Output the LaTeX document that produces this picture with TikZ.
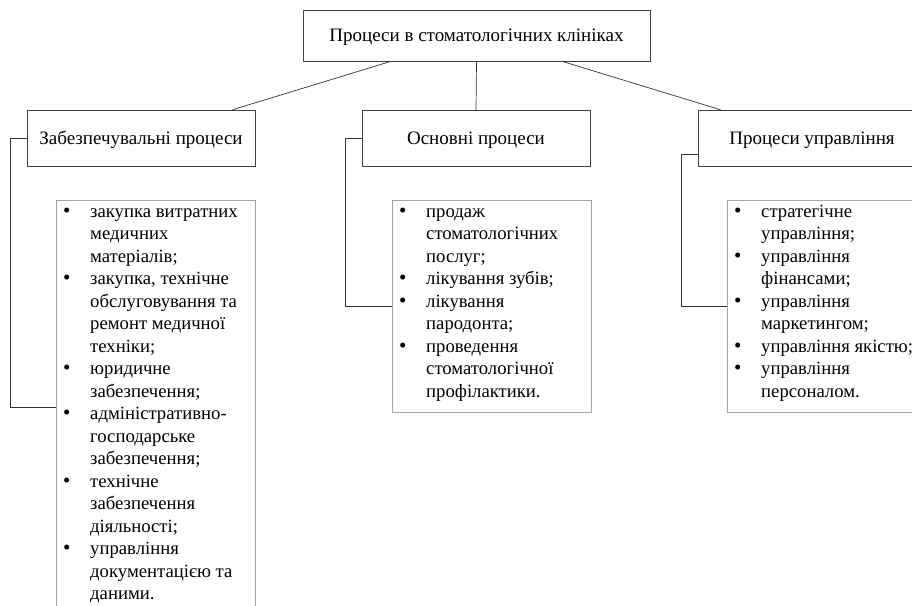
\documentclass[tikz,border=0pt]{standalone}
\usepackage{fontspec}
\setmainfont{Liberation Serif}
\usetikzlibrary{calc, shadows}

\tikzset{
	head/.style = {draw = black!75, fill = white, minimum width = 228pt, minimum height = 56pt, inner sep = 0pt, text height = 12pt, text depth = 0pt, drop shadow = {shadow xshift = 1.2pt, shadow yshift = -1.2pt, opacity = 0.3}},
	plist/.style = {draw = black!35, fill = white, anchor = north west, inner sep = 0pt, font = \fontsize{18.7}{22.5}\selectfont, drop shadow = {shadow xshift = 0.8pt, shadow yshift = -0.8pt, opacity = 0.15}},
	link/.style = {draw = black!80, line width = 0.7pt}
}

% список з маркерами: висота рамки, рядки
\newcommand{\punkty}[2]{\parbox[c][#1][t]{199pt}{\vspace{1.5pt}\begin{tabular}{@{\hspace{7pt}}p{27pt}@{}l@{}}#2\end{tabular}}}
\newcommand{\bul}{{\fontsize{21}{0}\selectfont\textbullet}}

\begin{document}
\begin{tikzpicture}[x = 1pt, y = -1pt, font = \fontsize{19}{22.6}\selectfont]

	\useasboundingbox (0, 0) rectangle (912, 605);
	\clip (0, 0) rectangle (912, 605);

	% заголовки
	\node[head, minimum width = 347pt, minimum height = 51pt] (top) at (476.5, 35.5) {Процеси в стоматологічних клініках};
	\node[head] (zab) at (141, 138) {Забезпечувальні процеси};
	\node[head] (osn) at (476, 138) {Основні процеси};
	\node[head] (upr) at (812, 138) {Процеси управління};

	% списки
	\node[plist] (zabL) at (56, 200) {\punkty{414pt}{%
		\bul & закупка витратних\\ & медичних\\ & матеріалів;\\
		\bul & закупка, технічне\\ & обслуговування та\\ & ремонт медичної\\ & техніки;\\
		\bul & юридичне\\ & забезпечення;\\
		\bul & адміністративно-\\ & господарське\\ & забезпечення;\\
		\bul & технічне\\ & забезпечення\\ & діяльності;\\
		\bul & управління\\ & документацією та\\ & даними.}};
	\node[plist] (osnL) at (392, 200) {\punkty{212pt}{%
		\bul & продаж\\ & стоматологічних\\ & послуг;\\
		\bul & лікування зубів;\\
		\bul & лікування\\ & пародонта;\\
		\bul & проведення\\ & стоматологічної\\ & профілактики.}};
	\node[plist] (uprL) at (727, 200) {\punkty{212pt}{%
		\bul & стратегічне\\ & управління;\\
		\bul & управління\\ & фінансами;\\
		\bul & управління\\ & маркетингом;\\
		\bul & управління якістю;\\
		\bul & управління\\ & персоналом.}};

	% зв'язки зверху
	\draw[link] ($(top.south west)!0.255!(top.south east)$) -- ($(zab.north west)!0.9!(zab.north east)$);
	\draw[link] (top.south) -- (osn.north);
	\draw[link] ($(top.south west)!0.745!(top.south east)$) -- ($(upr.north west)!0.1!(upr.north east)$);

	% зв'язки зі списками
	\draw[link] (zab.west) -- ++(-16, 0) |- (zabL.west);
	\draw[link] (osn.west) -- ++(-16, 0) |- (osnL.west);
	\draw[link] ([yshift = -16pt]upr.west) -- ++(-16, 0) |- (uprL.west);

\end{tikzpicture}
\end{document}
